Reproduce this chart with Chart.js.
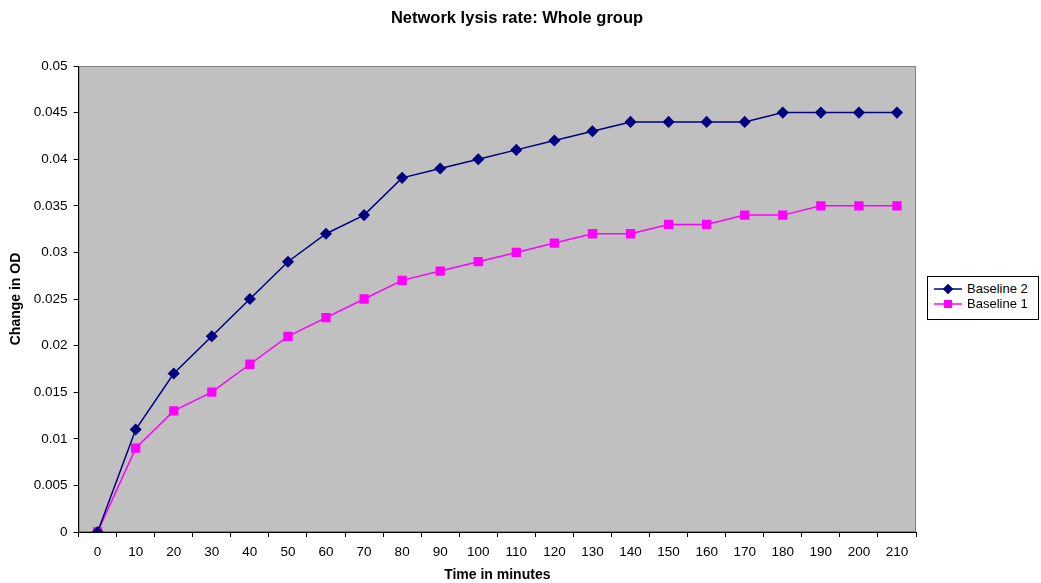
<!DOCTYPE html>
<html>
<head>
<meta charset="utf-8">
<script src="https://cdn.jsdelivr.net/npm/chart.js@4.4.0/dist/chart.umd.min.js"></script>
<style>
  body { margin: 0; background: #fff; }
  #wrap { position: relative; width: 1041px; height: 583px; }
  #legend {
    position: absolute; left: 927px; top: 276px; width: 112px; height: 44px;
    border: 1px solid #000; background: #fff; font: 13px "Liberation Sans", Arial, sans-serif;
    box-sizing: border-box;
  }
  .item { position: absolute; left: 0; height: 16px; line-height: 16px; }
  .item canvas { position: absolute; left: 5px; top: 0; }
  .item span { position: absolute; left: 39px; top: 0; white-space: nowrap; }
</style>
</head>
<body>
<div id="wrap">
  <canvas id="lysis__chart" width="1041" height="583"></canvas>
  <div id="legend">
    <div class="item" style="top:4px"><canvas id="lg2" width="30" height="16"></canvas><span>Baseline 2</span></div>
    <div class="item" style="top:19px"><canvas id="lg1" width="30" height="16"></canvas><span>Baseline 1</span></div>
  </div>
</div>
<script>
var minutes = ['0', '10', '20', '30', '40', '50', '60', '70', '80', '90', '100',
  '110', '120', '130', '140', '150', '160', '170', '180', '190', '200', '210'];
var baseline2 = [0, 0.011, 0.017, 0.021, 0.025, 0.029, 0.032, 0.034, 0.038, 0.039, 0.040,
  0.041, 0.042, 0.043, 0.044, 0.044, 0.044, 0.044, 0.045, 0.045, 0.045, 0.045];
var baseline1 = [0, 0.009, 0.013, 0.015, 0.018, 0.021, 0.023, 0.025, 0.027, 0.028, 0.029,
  0.030, 0.031, 0.032, 0.032, 0.033, 0.033, 0.034, 0.034, 0.035, 0.035, 0.035];
var chartTitle = 'Network lysis rate: Whole group';

var font = '"Liberation Sans", Arial, sans-serif';

// grey plot area + chart title drawn centred over the whole figure (Excel style)
var plotBack = {
  id: 'plotBack',
  beforeDraw: function(chart) {
    var a = chart.chartArea, c = chart.ctx;
    c.save();
    c.fillStyle = '#C0C0C0';
    c.fillRect(a.left, a.top, a.right - a.left, a.bottom - a.top);
    c.strokeStyle = '#808080';
    c.lineWidth = 1;
    c.strokeRect(a.left + 0.5, a.top + 0.5, a.right - a.left - 1, a.bottom - a.top - 1);
    c.fillStyle = '#000';
    c.font = 'bold 16.5px ' + font;
    c.textAlign = 'center';
    c.textBaseline = 'middle';
    c.fillText(chartTitle, 517, 18);
    c.restore();
  }
};

var ctx = document.getElementById('lysis__chart').getContext('2d');
var lysisChart = new Chart(ctx, {
  type: 'line',
  data: {
    labels: minutes,
    datasets: [{
      label: 'Baseline 2',
      data: baseline2,
      borderColor: '#000080',
      backgroundColor: '#000080',
      borderWidth: 1.5,
      pointStyle: 'rectRot',
      pointRadius: 5,
      pointHoverRadius: 5,
      tension: 0
    }, {
      label: 'Baseline 1',
      data: baseline1,
      borderColor: '#FF00FF',
      backgroundColor: '#FF00FF',
      borderWidth: 1.5,
      pointStyle: 'rect',
      pointRadius: 5.5,
      pointHoverRadius: 5.5,
      tension: 0
    }]
  },
  options: {
    responsive: false,
    animation: false,
    layout: { padding: { left: 4, right: 125, top: 66, bottom: -1 } },
    plugins: {
      legend: { display: false },
      tooltip: { enabled: false },
      title: { display: false }
    },
    scales: {
      x: {
        offset: true,
        grid: { offset: true, drawOnChartArea: false, color: '#000', tickLength: 5 },
        border: { color: '#000', width: 1 },
        ticks: { color: '#000', font: { family: font, size: 13.5 }, padding: 7, maxRotation: 0, autoSkip: false },
        title: { display: true, text: 'Time in minutes', color: '#000',
          font: { family: font, size: 14, weight: 'bold' }, padding: { top: 0, bottom: 0 } }
      },
      y: {
        min: 0,
        max: 0.05,
        grid: { drawOnChartArea: false, color: '#000', tickLength: 5 },
        border: { color: '#000', width: 1 },
        ticks: { stepSize: 0.005, color: '#000', font: { family: font, size: 13.5 }, padding: 6,
          callback: function(v) { return +v.toFixed(3); } },
        title: { display: true, text: 'Change in OD', color: '#000',
          font: { family: font, size: 14, weight: 'bold' }, padding: { top: 4, bottom: 3 } }
      }
    }
  },
  plugins: [plotBack]
});

function legendSwatch(id, color, style, r) {
  var c = document.getElementById(id).getContext('2d');
  c.strokeStyle = color;
  c.lineWidth = 1.5;
  c.beginPath();
  c.moveTo(1, 8);
  c.lineTo(29, 8);
  c.stroke();
  c.fillStyle = color;
  Chart.helpers.drawPoint(c, { pointStyle: style, radius: r, borderWidth: 0 }, 15, 8);
  c.fill();
}
legendSwatch('lg2', '#000080', 'rectRot', 5);
legendSwatch('lg1', '#FF00FF', 'rect', 5.5);
</script>
</body>
</html>
